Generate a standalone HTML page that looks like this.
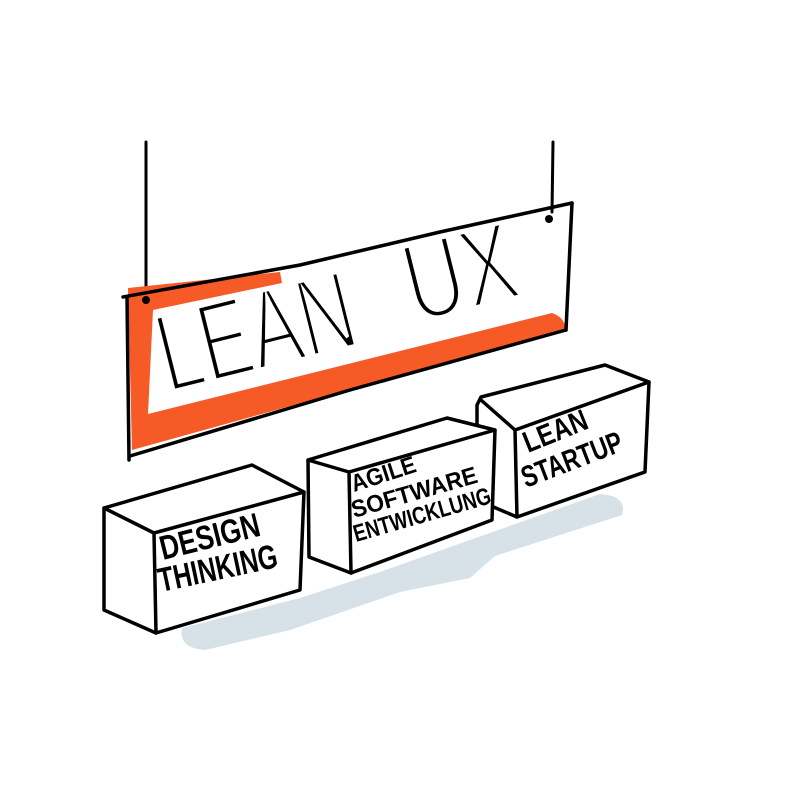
<!DOCTYPE html>
<html><head><meta charset="utf-8"><style>
html,body{margin:0;padding:0;background:#fff;}
svg{display:block}
text{font-family:"Liberation Sans",sans-serif;fill:#000;}
.b{font-weight:bold;}
.thin{stroke:#fff;stroke-width:5;}
</style></head><body>
<svg width="800" height="800" viewBox="0 0 800 800">
<path d="M182,628 L300,598 L380,572 L470,540 L600,494 Q628,496 622,515 L495,556 L470,578 L400,592 L290,630 L205,650 Q178,648 182,628 Z" fill="#d6e1e8"/>
<g stroke="#000" stroke-width="3" fill="none" stroke-linecap="round" stroke-linejoin="round">
<path d="M146,142 L146,300"/>
<path d="M553,142 L552,212"/>
</g>
<path d="M128,288 L280,272 L282,283 L153,310 L148,414 L552,313 Q566,318 565,330 L150,445 L132,450 Z" fill="#f65a27"/>
<text class="thin" x="168" y="393" font-size="112" textLength="200" lengthAdjust="spacingAndGlyphs" transform="rotate(-14 168 393)">LEAN</text>
<text class="thin" x="415" y="323" font-size="112" textLength="112" lengthAdjust="spacingAndGlyphs" transform="rotate(-14 415 323)">UX</text>
<g stroke="#000" stroke-width="3.5" fill="none" stroke-linecap="round" stroke-linejoin="round">
<path d="M123,297 L300,265 L440,232 L572,203"/>
<path d="M572,203 L566,330"/>
<path d="M566,330 L350,390 L130,456"/>
<path d="M127,297 L129,460"/>
</g>
<circle cx="146" cy="300" r="4" fill="#000"/>
<circle cx="549" cy="219" r="4" fill="#000"/>
<g stroke="#000" stroke-width="3.5" fill="#fff" stroke-linecap="round" stroke-linejoin="round">
<path d="M481,397 L605,365 L649,382 L645,472 L517,517 L477,500 L477,405 Z"/>
<path d="M481,400 L515,430 L649,382 M515,430 L517,517" fill="none"/>
<path d="M308,460 L447,418 L495,430 L492,520 L351,573 L309,557 Z"/>
<path d="M308,460 L349,472 L495,430 M349,472 L351,573" fill="none"/>
<path d="M104,508 L252,465 L304,492 L300,590 L156,633 L104,610 Z"/>
<path d="M104,508 L154,533 L304,492 M154,533 L156,633" fill="none"/>
</g>
<g class="b">
<text x="163" y="560" font-size="34" textLength="102" lengthAdjust="spacingAndGlyphs" transform="rotate(-14 163 560)">DESIGN</text>
<text x="161" y="592" font-size="34" textLength="121" lengthAdjust="spacingAndGlyphs" transform="rotate(-12 161 592)">THINKING</text>
<text x="354" y="492" font-size="24" textLength="67" lengthAdjust="spacingAndGlyphs" transform="rotate(-18 354 492)">AGILE</text>
<text x="354" y="518" font-size="24" textLength="130" lengthAdjust="spacingAndGlyphs" transform="rotate(-16 354 518)">SOFTWARE</text>
<text x="356" y="542" font-size="24" textLength="142" lengthAdjust="spacingAndGlyphs" transform="rotate(-16 356 542)">ENTWICKLUNG</text>
<text x="528" y="453" font-size="30" textLength="67" lengthAdjust="spacingAndGlyphs" transform="rotate(-22 528 453)">LEAN</text>
<text x="526" y="488" font-size="30" textLength="106" lengthAdjust="spacingAndGlyphs" transform="rotate(-21 526 488)">STARTUP</text>
</g>
</svg>
</body></html>
